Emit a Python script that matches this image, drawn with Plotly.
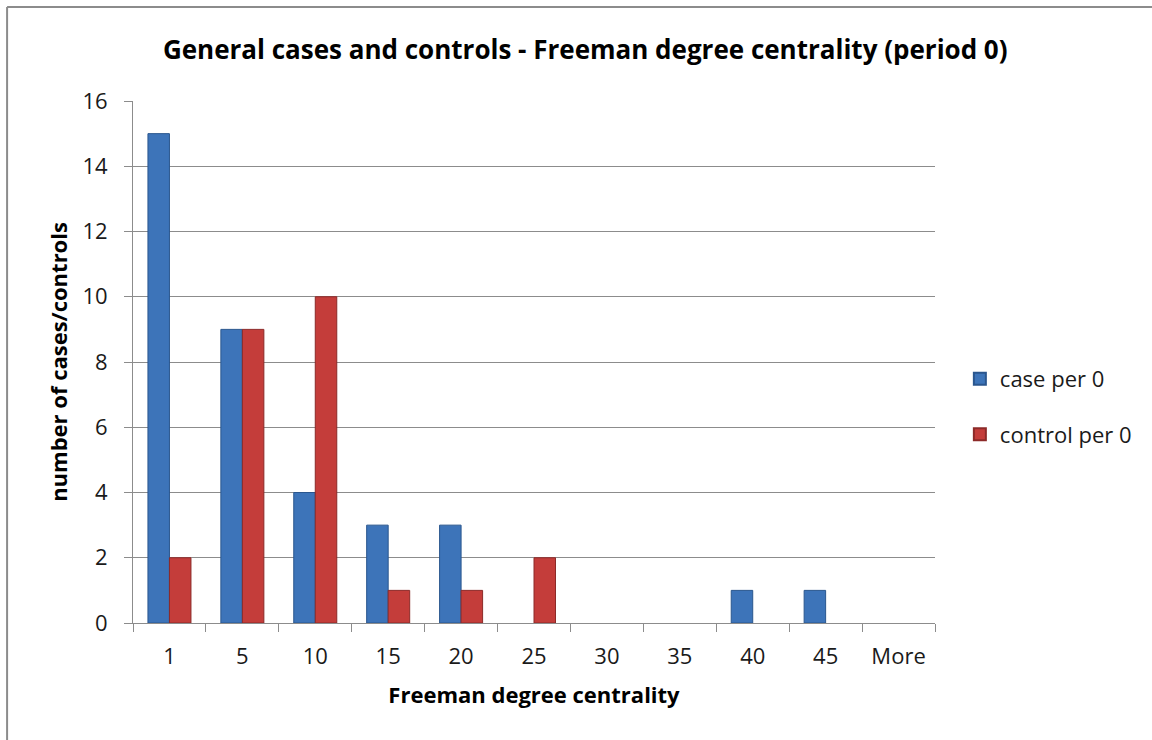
import plotly.graph_objects as go

categories = ["1", "5", "10", "15", "20", "25", "30", "35", "40", "45", "More"]
case_counts = [15, 9, 4, 3, 3, 0, 0, 0, 1, 1, 0]
control_counts = [2, 9, 10, 1, 1, 2, 0, 0, 0, 0, 0]

FONT = "Open Sans"
GRID = "#8c8c8c"
TEXT = "#1a1a1a"

fig = go.Figure()
# empty bins are left blank (Excel draws nothing for them)
fig.add_bar(x=categories, y=[v or None for v in case_counts], name="case per 0",
            legendgroup="case",
            marker={"color": "#3d74b9", "line": {"color": "#2a568e", "width": 1}})
fig.add_bar(x=categories, y=[v or None for v in control_counts], name="control per 0",
            legendgroup="control",
            marker={"color": "#c43d3a", "line": {"color": "#8c2a28", "width": 1}})

fig.update_layout(
    width=1152, height=740,
    barmode="group", bargap=0.41, bargroupgap=0,
    plot_bgcolor="white", paper_bgcolor="white",
    font={"family": FONT, "size": 22, "color": TEXT},
    margin={"l": 133, "r": 217, "t": 101, "b": 117},
    title={"text": "<b>General cases and controls - Freeman degree centrality (period 0)</b>",
           "x": 0.508, "xanchor": "center", "y": 0.932, "yanchor": "middle",
           "font": {"size": 26, "color": "#000000"}},
    legend={"x": 1.031, "y": 0.414, "xanchor": "left", "yanchor": "middle",
            "font": {"size": 22}, "tracegroupgap": 24, "itemsizing": "constant"},
    showlegend=True,
)
fig.update_xaxes(
    showline=True, linecolor=GRID, linewidth=1,
    ticks="outside", ticklen=8, tickcolor=GRID, tickson="boundaries",
    ticklabelstandoff=14,
    title={"text": "<b>Freeman degree centrality</b>", "font": {"size": 22, "color": "#000000"},
           "standoff": 18},
)
fig.update_yaxes(
    range=[0, 16], dtick=2, showgrid=True, gridcolor=GRID, gridwidth=1,
    showline=True, linecolor=GRID, linewidth=1, zeroline=False,
    ticks="outside", ticklen=8, tickcolor=GRID, ticklabelstandoff=12,
    title={"text": "<b>number of cases/controls</b>", "font": {"size": 22, "color": "#000000"},
           "standoff": 8},
)

# chart-area border (only top and left edges fall inside the captured image)
fig.add_shape(type="line", xref="paper", yref="paper", x0=-0.157, x1=1.4, y0=1.18, y1=1.18,
              line={"color": "#8c8c8c", "width": 2})
fig.add_shape(type="line", xref="paper", yref="paper", x0=-0.157, x1=-0.157, y0=-0.3, y1=1.18,
              line={"color": "#8c8c8c", "width": 2})

# drop the default body margin so the figure sits flush with the window
fig.write_html("out.html", config={"displayModeBar": False},
               post_script="document.body.style.margin = '0';")
